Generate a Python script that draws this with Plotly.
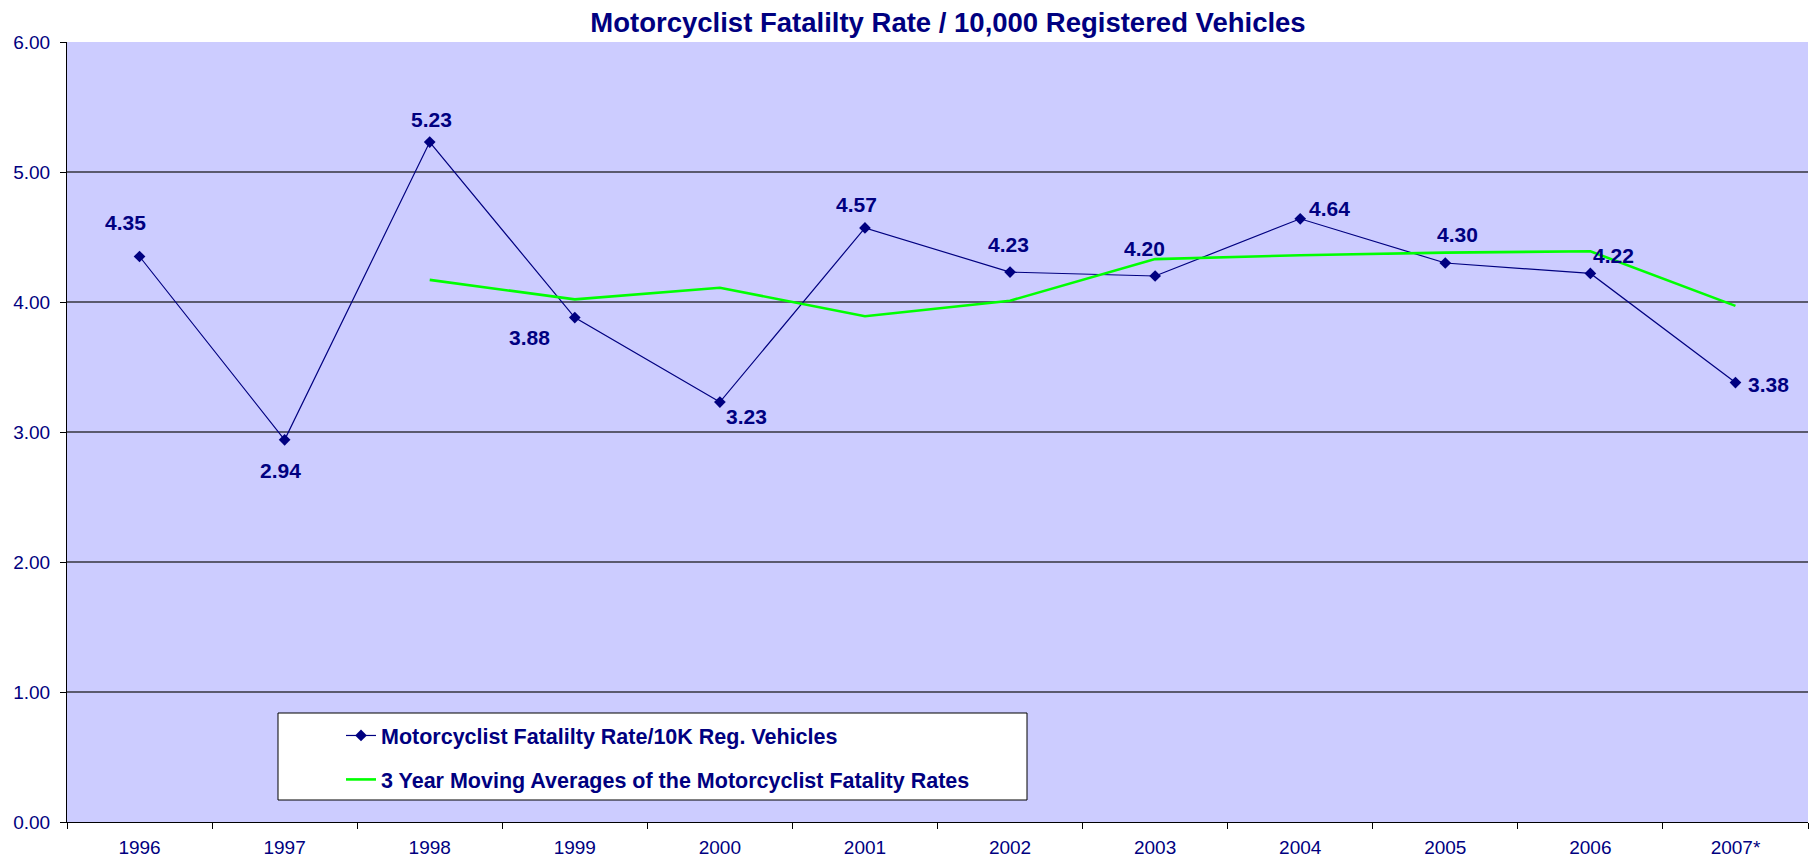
import plotly.graph_objects as go

years = ["1996", "1997", "1998", "1999", "2000", "2001", "2002", "2003", "2004", "2005", "2006", "2007*"]
rates = [4.35, 2.94, 5.23, 3.88, 3.23, 4.57, 4.23, 4.20, 4.64, 4.30, 4.22, 3.38]
avg_years = ["1998", "1999", "2000", "2001", "2002", "2003", "2004", "2005", "2006", "2007*"]
avg_rates = [4.17, 4.02, 4.11, 3.89, 4.01, 4.33, 4.36, 4.38, 4.39, 3.97]

# label offsets in pixels (dx, dy screen-down)
label_offsets = [(-14, -34), (-4, 31), (2, -23), (-45, 20), (27, 14), (-8, -23),
                 (-2, -28), (-11, -28), (29, -10), (12, -29), (23, -18), (33, 2)]

NAVY = "#000080"
NARROW = "Liberation Sans Narrow, Arial Narrow, Liberation Sans, Arial, sans-serif"
ARIAL = "Liberation Sans, Arial, sans-serif"

fig = go.Figure()
fig.add_trace(go.Scatter(
    x=years, y=rates, mode="lines+markers",
    name="Motorcyclist Fatalilty Rate/10K Reg. Vehicles",
    line=dict(color=NAVY, width=1.2),
    marker=dict(symbol="diamond", size=9, color=NAVY),
    legendgroup="a",
))
fig.add_trace(go.Scatter(
    x=avg_years, y=avg_rates, mode="lines",
    name="3 Year Moving Averages of the Motorcyclist Fatality Rates",
    line=dict(color="#00FF00", width=2.6),
    legendgroup="b",
))

for i, (v, (dx, dy)) in enumerate(zip(rates, label_offsets)):
    fig.add_annotation(x=i, y=v, xref="x", yref="y", text=f"{v:.2f}",
                       showarrow=False, xshift=dx, yshift=-dy,
                       font=dict(family=ARIAL, size=21, color=NAVY, weight="bold"))

W, H = 1812, 861
L, R, T, B = 67, 4, 42, 39
pw = W - L - R
ph = H - T - B

def px_x(p):
    return (p - L) / pw

def px_y(p):
    return (H - B - p) / ph

# legend box
fig.add_shape(type="rect", xref="paper", yref="paper",
              x0=px_x(278), x1=px_x(1027), y0=px_y(800), y1=px_y(713),
              fillcolor="white", line=dict(color="black", width=1), layer="above")

fig.update_layout(
    width=W, height=H,
    margin=dict(l=L, r=R, t=T, b=B, autoexpand=False),
    paper_bgcolor="white",
    plot_bgcolor="#CCCCFF",
    title=dict(text="<b>Motorcyclist Fatalilty Rate / 10,000 Registered Vehicles</b>",
               x=px_x(948), xref="paper", xanchor="center",
               y=1 - 22 / H, yref="container", yanchor="middle",
               font=dict(family=NARROW, size=27.5, color=NAVY)),
    xaxis=dict(type="category", range=[-0.5, 11.5], tickson="boundaries",
               ticks="outside", ticklen=6, tickcolor="black", ticklabelstandoff=8,
               showline=True, linecolor="black", linewidth=1,
               showgrid=False, tickfont=dict(family=ARIAL, size=19, color=NAVY)),
    yaxis=dict(range=[0, 6], dtick=1, tickformat=".2f",
               ticks="outside", ticklen=6, tickcolor="black", ticklabelstandoff=6,
               showline=True, linecolor="black", linewidth=1,
               showgrid=True, gridcolor="#5a5a6e", gridwidth=1.5, zeroline=False,
               tickfont=dict(family=ARIAL, size=19, color=NAVY)),
    showlegend=True,
    legend=dict(x=px_x(341), y=px_y(715), xanchor="left", yanchor="top",
                xref="paper", yref="paper",
                bgcolor="rgba(0,0,0,0)", borderwidth=0,
                traceorder="grouped", tracegroupgap=13,
                font=dict(family=NARROW, size=21.5, color=NAVY, weight="bold")),
)

fig.write_html("out.html", config={"displayModeBar": False},
               post_script="document.body.style.margin='0';document.body.style.overflow='hidden';")
